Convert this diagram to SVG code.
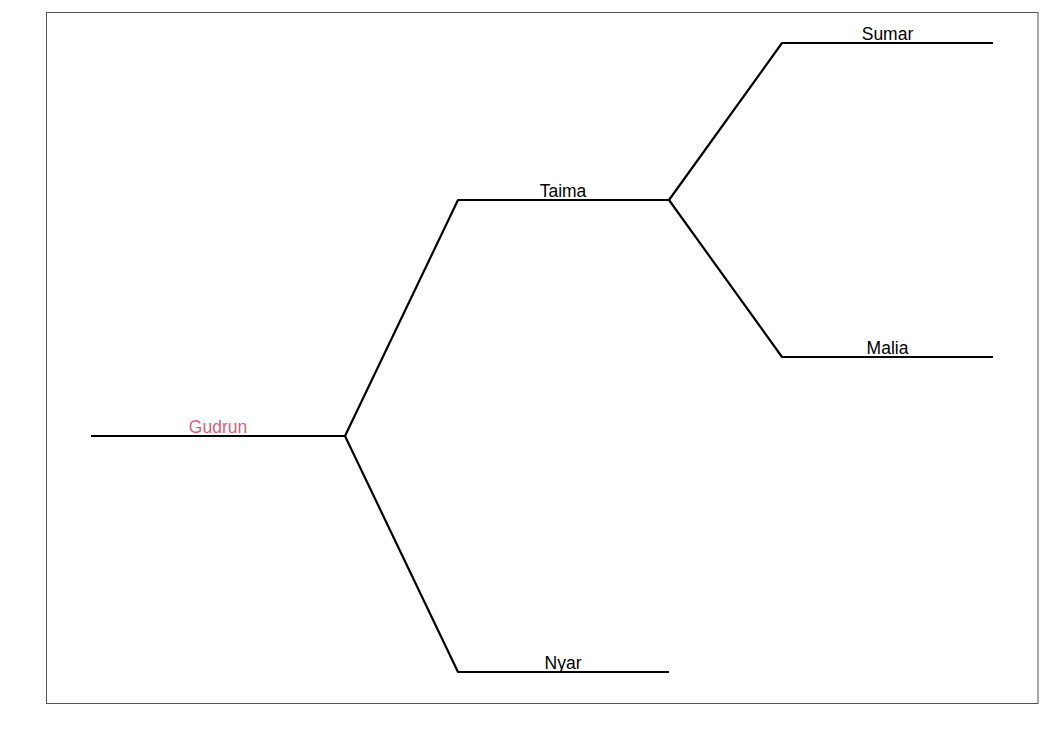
<svg xmlns="http://www.w3.org/2000/svg" width="1050" height="750" viewBox="0 0 1050 750">
<style>
.e{fill:none;stroke:#000;stroke-width:2.2;stroke-linejoin:round;stroke-linecap:butt}
.t{font-family:"Liberation Sans",Arial,sans-serif;font-size:17.5px;text-anchor:middle;fill:#000}
</style>
<rect width="1050" height="750" fill="#fff"/>
<rect x="46.5" y="12.5" width="991.5" height="691" fill="none" stroke="#555" stroke-width="1"/>
<g id="connectors">
<path class="e" d="M91,436 H345 L458,200 H669 L782,43 H993"/>
<path class="e" d="M669,200 L782,357 H993"/>
<path class="e" d="M345,436 L458,672 H669"/>
</g>
<g id="gudrun"><text class="t" x="218" y="433" style="fill:#D45F7E">Gudrun</text></g>
<g id="taima"><text class="t" x="563" y="196.5">Taima</text></g>
<g id="sumar"><text class="t" x="887.5" y="39.5">Sumar</text></g>
<g id="malia"><text class="t" x="887.5" y="354">Malia</text></g>
<g id="nyar"><text class="t" x="563" y="668.5">Nyar</text></g>
</svg>
